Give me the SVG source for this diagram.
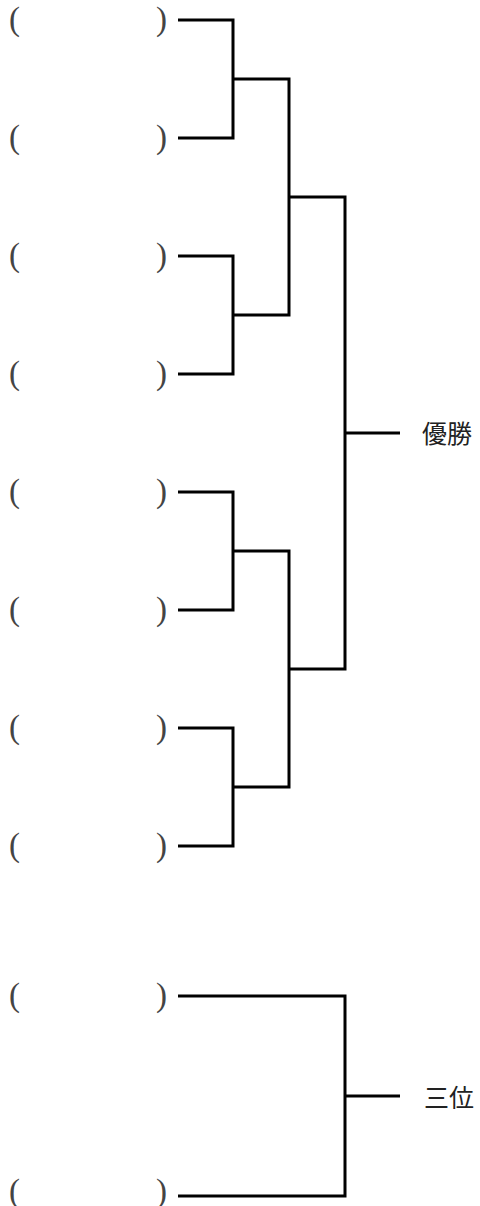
<svg xmlns="http://www.w3.org/2000/svg" width="480" height="1206" viewBox="0 0 480 1206">
<style>
.p{font-family:"Liberation Serif",serif;font-size:33px;fill:#444;dominant-baseline:central}
.t{font-family:"Noto Sans CJK JP",sans-serif;font-size:25px;fill:#222;dominant-baseline:central}
.c path{fill:none;stroke:#000;stroke-width:3;stroke-linejoin:miter}
</style>
<rect width="480" height="1206" fill="#fff"/>
<g id="entry1"><text class="p" x="9" y="19">(</text><text class="p" x="156" y="19">)</text></g>
<g id="entry2"><text class="p" x="9" y="137">(</text><text class="p" x="156" y="137">)</text></g>
<g id="entry3"><text class="p" x="9" y="255">(</text><text class="p" x="156" y="255">)</text></g>
<g id="entry4"><text class="p" x="9" y="373">(</text><text class="p" x="156" y="373">)</text></g>
<g id="entry5"><text class="p" x="9" y="491">(</text><text class="p" x="156" y="491">)</text></g>
<g id="entry6"><text class="p" x="9" y="609">(</text><text class="p" x="156" y="609">)</text></g>
<g id="entry7"><text class="p" x="9" y="727">(</text><text class="p" x="156" y="727">)</text></g>
<g id="entry8"><text class="p" x="9" y="845">(</text><text class="p" x="156" y="845">)</text></g>
<g id="entry9"><text class="p" x="9" y="995">(</text><text class="p" x="156" y="995">)</text></g>
<g id="entry10"><text class="p" x="9" y="1191">(</text><text class="p" x="156" y="1191">)</text></g>
<g id="winner"><text class="t" x="422" y="432">優勝</text></g>
<g id="third"><text class="t" x="424" y="1096">三位</text></g>
<g id="connectors" class="c">
<path d="M178,20 H233 V138 H178"/>
<path d="M178,256 H233 V374 H178"/>
<path d="M178,492 H233 V610 H178"/>
<path d="M178,728 H233 V846 H178"/>
<path d="M233,79 H289 V315 H233"/>
<path d="M233,551 H289 V787 H233"/>
<path d="M289,197 H345 V669 H289"/>
<path d="M345,433 H400"/>
<path d="M178,996 H345 V1196 H178"/>
<path d="M345,1096 H400"/>
</g>
</svg>
